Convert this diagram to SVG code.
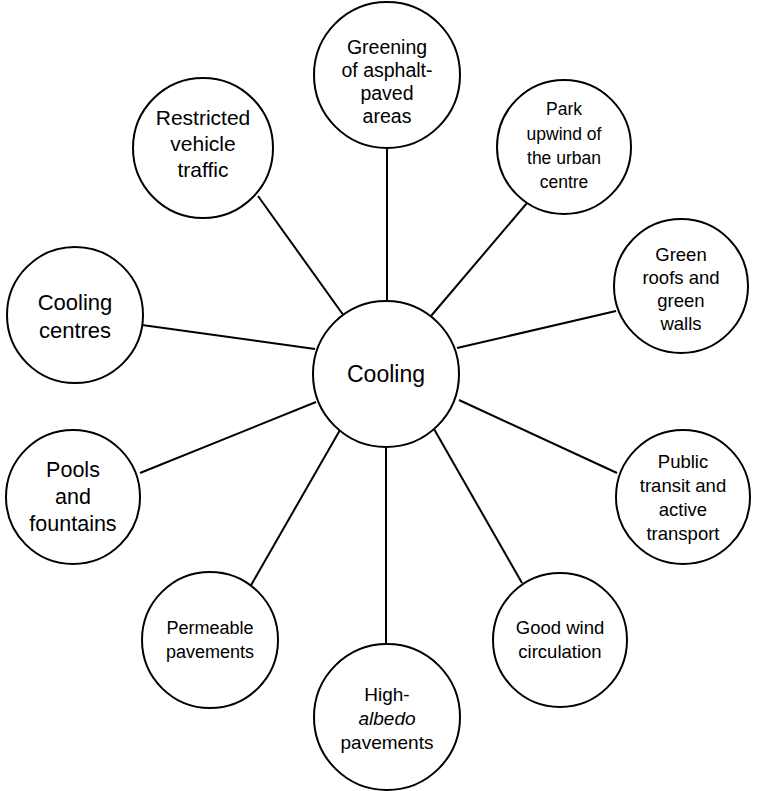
<svg xmlns="http://www.w3.org/2000/svg" width="764" height="791" viewBox="0 0 764 791">
<style>
.n{fill:#fff;stroke:#000;stroke-width:2}
.c line{stroke:#000;stroke-width:2}
text{font-family:"Liberation Sans",Arial,sans-serif;fill:#000;text-anchor:middle;dominant-baseline:central}
</style>
<rect width="764" height="791" fill="#fff"/>
<g class="c" id="connectors">
<line x1="387" y1="148" x2="387" y2="301"/>
<line x1="527" y1="203" x2="431" y2="316"/>
<line x1="616" y1="311" x2="457" y2="348"/>
<line x1="617" y1="473" x2="459" y2="400"/>
<line x1="522" y1="583" x2="434" y2="429"/>
<line x1="386" y1="447" x2="386" y2="644"/>
<line x1="246" y1="594" x2="340" y2="430"/>
<line x1="140" y1="473" x2="316" y2="402"/>
<line x1="142" y1="325" x2="315" y2="349"/>
<line x1="258" y1="196" x2="344" y2="316"/>
</g>
<g id="cooling"><circle class="n" cx="386" cy="374" r="73"/><text x="386" y="374" font-size="23">Cooling</text></g>
<g id="greening"><circle class="n" cx="387" cy="75" r="73"/><text font-size="19.5"><tspan x="387" y="47">Greening</tspan><tspan x="387" y="70">of asphalt-</tspan><tspan x="387" y="93">paved</tspan><tspan x="387" y="116">areas</tspan></text></g>
<g id="park"><circle class="n" cx="564" cy="147" r="67"/><text font-size="17.5"><tspan x="564" y="109">Park</tspan><tspan x="564" y="134">upwind of</tspan><tspan x="564" y="158">the urban</tspan><tspan x="564" y="182">centre</tspan></text></g>
<g id="greenroofs"><circle class="n" cx="681" cy="286" r="67"/><text font-size="18.5"><tspan x="681" y="254">Green</tspan><tspan x="681" y="277">roofs and</tspan><tspan x="681" y="300">green</tspan><tspan x="681" y="323">walls</tspan></text></g>
<g id="transit"><circle class="n" cx="683" cy="497" r="67"/><text font-size="18.5"><tspan x="683" y="461">Public</tspan><tspan x="683" y="485">transit and</tspan><tspan x="683" y="509">active</tspan><tspan x="683" y="533">transport</tspan></text></g>
<g id="wind"><circle class="n" cx="560" cy="640" r="67"/><text font-size="18.5"><tspan x="560" y="627">Good wind</tspan><tspan x="560" y="651">circulation</tspan></text></g>
<g id="albedo"><circle class="n" cx="387" cy="717" r="73"/><text font-size="19"><tspan x="387" y="694">High-</tspan><tspan x="387" y="718" font-style="italic">albedo</tspan><tspan x="387" y="742">pavements</tspan></text></g>
<g id="permeable"><circle class="n" cx="210" cy="640" r="68"/><text font-size="18"><tspan x="210" y="628">Permeable</tspan><tspan x="210" y="652">pavements</tspan></text></g>
<g id="pools"><circle class="n" cx="73" cy="497" r="67"/><text font-size="21.5"><tspan x="73" y="470">Pools</tspan><tspan x="73" y="497">and</tspan><tspan x="73" y="524">fountains</tspan></text></g>
<g id="coolingcentres"><circle class="n" cx="75" cy="315" r="68"/><text font-size="22"><tspan x="75" y="302">Cooling</tspan><tspan x="75" y="330">centres</tspan></text></g>
<g id="restricted"><circle class="n" cx="203" cy="148" r="70"/><text font-size="21"><tspan x="203" y="117">Restricted</tspan><tspan x="203" y="143">vehicle</tspan><tspan x="203" y="169">traffic</tspan></text></g>
</svg>
